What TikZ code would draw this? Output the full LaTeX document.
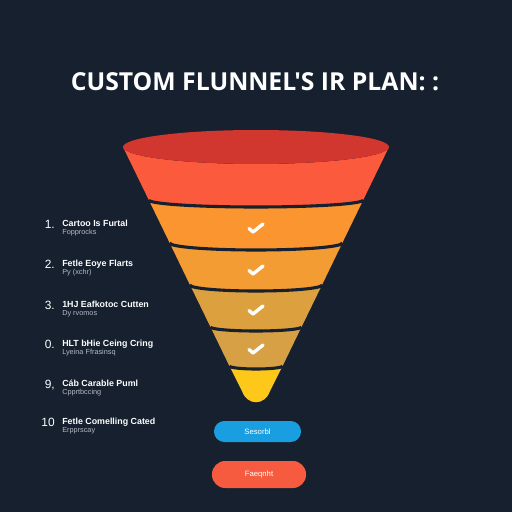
\documentclass[tikz,border=0pt]{standalone}
\usepackage{fontspec}
\setmainfont{Liberation Sans}
\newfontfamily\headfont{Open Sans}
\usetikzlibrary{positioning}
\definecolor{bgnavy}{HTML}{16202E}
\definecolor{rimred}{HTML}{D2372F}
\definecolor{bandred}{HTML}{FB5A3C}
\definecolor{bandorange}{HTML}{FA9530}
\definecolor{bandamber}{HTML}{F49C34}
\definecolor{bandochre}{HTML}{DCA03F}
\definecolor{bandsand}{HTML}{D8A044}
\definecolor{tipyellow}{HTML}{FEC81A}
\definecolor{subgrey}{HTML}{B4BAC4}
\definecolor{btnblue}{HTML}{1A9EE2}
\definecolor{btnred}{HTML}{F65B40}
\tikzset{
  separator/.style={draw=bgnavy, line width=2.2pt},
  tick/.style={draw=white, line width=2.4pt, line cap=round, line join=round},
  head/.style={text=white, font=\headfont\bfseries\fontsize{17.6}{20}\selectfont, anchor=base, inner sep=0pt},
  item-num/.style={text=white, font=\fontsize{8.5}{9}\selectfont, anchor=base east, inner sep=0pt},
  item-title/.style={text=white, font=\bfseries\fontsize{6.3}{7}\selectfont, anchor=base west, inner sep=0pt},
  item-sub/.style={text=subgrey, font=\fontsize{5.2}{6}\selectfont, anchor=base west, inner sep=0pt},
  pill/.style={text=white, font=\fontsize{5.5}{6}\selectfont, inner sep=0pt},
  pill-blue/.style={pill, fill=btnblue, minimum width=2.175cm, minimum height=0.525cm, rounded corners=0.26cm},
  pill-red/.style={pill, fill=btnred, minimum width=2.35cm, minimum height=0.675cm, rounded corners=0.33cm}
}

\begin{document}
\begin{tikzpicture}[x=0.025cm, y=0.025cm]
  \fill[bgnavy] (0,0) rectangle (512,-512);
  \useasboundingbox (0,0) rectangle (512,-512);
  % Title
  \node[head] (title) at (255,-90) {CUSTOM FLUNNEL'S IR PLAN: :};
  % Funnel levels
  \coordinate (L0) at (123,-147);   \coordinate (R0) at (389,-147);
  \coordinate (L1) at (148.8,-200); \coordinate (R1) at (363.2,-200);
  \coordinate (L2) at (169.7,-243); \coordinate (R2) at (342.3,-243);
  \coordinate (L3) at (190,-285);   \coordinate (R3) at (322,-285);
  \coordinate (L4) at (210.5,-327); \coordinate (R4) at (301.5,-327);
  \coordinate (L5) at (229.4,-366); \coordinate (R5) at (282.6,-366);
  % Bands
  \fill[bandred] (L0) -- (L1) arc[start angle=180, end angle=360, x radius=107.2, y radius=7]
    -- (R0) arc[start angle=0, end angle=-180, x radius=133, y radius=17] -- cycle;
  \fill[bandorange] (L1) -- (L2) arc[start angle=180, end angle=360, x radius=86.3, y radius=7]
    -- (R1) arc[start angle=0, end angle=-180, x radius=107.2, y radius=7] -- cycle;
  \fill[bandamber] (L2) -- (L3) arc[start angle=180, end angle=360, x radius=66, y radius=6]
    -- (R2) arc[start angle=0, end angle=-180, x radius=86.3, y radius=7] -- cycle;
  \fill[bandochre] (L3) -- (L4) arc[start angle=180, end angle=360, x radius=45.5, y radius=4]
    -- (R3) arc[start angle=0, end angle=-180, x radius=66, y radius=6] -- cycle;
  \fill[bandsand] (L4) -- (L5) arc[start angle=180, end angle=360, x radius=26.6, y radius=3]
    -- (R4) arc[start angle=0, end angle=-180, x radius=45.5, y radius=4] -- cycle;
  \fill[tipyellow] (L5) -- (242,-391) .. controls (247,-406) and (265,-406) .. (270,-391)
    -- (R5) arc[start angle=0, end angle=-180, x radius=26.6, y radius=3] -- cycle;
  % Rim
  \fill[rimred] (256,-147) ellipse[x radius=133, y radius=17];
  % Separators
  \draw[separator] (L1) arc[start angle=180, end angle=360, x radius=107.2, y radius=7];
  \draw[separator] (L2) arc[start angle=180, end angle=360, x radius=86.3, y radius=7];
  \draw[separator] (L3) arc[start angle=180, end angle=360, x radius=66, y radius=6];
  \draw[separator] (L4) arc[start angle=180, end angle=360, x radius=45.5, y radius=4];
  \draw[separator] (L5) arc[start angle=180, end angle=360, x radius=26.6, y radius=3];
  % Checks
  \draw[tick, shift={(256,-228)}] (-7,-0.5) -- (-3,-4) -- (7,4);
  \draw[tick, shift={(256,-270)}] (-7,-0.5) -- (-3,-4) -- (7,4);
  \draw[tick, shift={(256,-310)}] (-7,-0.5) -- (-3,-4) -- (7,4);
  \draw[tick, shift={(256,-349)}] (-7,-0.5) -- (-3,-4) -- (7,4);
  % List
  \node[item-num] (n1) at (55,-228) {1.};
  \node[item-title] (t1) at (62,-226) {Cartoo Is Furtal};
  \node[item-sub] (s1) at (62,-234) {Fopprocks};
  \node[item-num] (n2) at (55,-268) {2.};
  \node[item-title] (t2) at (62,-266) {Fetle Eoye Flarts};
  \node[item-sub] (s2) at (62,-274) {Py (xchr)};
  \node[item-num] (n3) at (55,-309) {3.};
  \node[item-title] (t3) at (62,-307) {1HJ Eafkotoc Cutten};
  \node[item-sub] (s3) at (62,-315) {Dy rvomos};
  \node[item-num] (n4) at (55,-348) {0.};
  \node[item-title] (t4) at (62,-346) {HLT bHie Ceing Cring};
  \node[item-sub] (s4) at (62,-354) {Lyeina Ffrasinsq};
  \node[item-num] (n5) at (55,-388) {9,};
  \node[item-title] (t5) at (62,-386) {Cáb Carable Puml};
  \node[item-sub] (s5) at (62,-394) {Cpprtbccing};
  \node[item-num] (n6) at (55,-426) {10};
  \node[item-title] (t6) at (62,-424) {Fetle Comelling Cated};
  \node[item-sub] (s6) at (62,-432) {Erpprscay};
  % Buttons
  \node[pill-blue] (submit) at (257.5,-431.5) {Sesorbl};
  \node[pill-red] (report) at (259,-474.5) {Faeqnht};
\end{tikzpicture}
\end{document}
